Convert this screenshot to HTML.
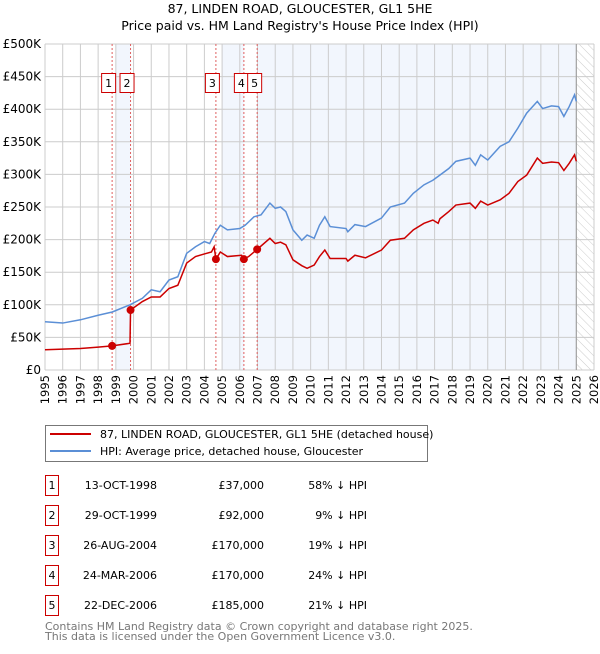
<!DOCTYPE html>
<html><head><meta charset="utf-8"><style>
body{margin:0;background:#fff;width:600px;height:650px;overflow:hidden;font-family:"DejaVu Sans","Liberation Sans",sans-serif;}
svg text{font-family:"DejaVu Sans","Liberation Sans",sans-serif;}
</style></head><body>
<svg id="chart" width="600" height="650" xmlns="http://www.w3.org/2000/svg">
<defs><pattern id="hatch" width="6" height="6" patternUnits="userSpaceOnUse" patternTransform="rotate(-45)"><line x1="0" y1="0" x2="0" y2="6" stroke="#ccc" stroke-width="1"/></pattern></defs>
<text x="300" y="13" text-anchor="middle" font-size="12.5">87, LINDEN ROAD, GLOUCESTER, GL1 5HE</text>
<text x="300" y="30" text-anchor="middle" font-size="12.5">Price paid vs. HM Land Registry's House Price Index (HPI)</text>
<g id="bands"></g><g id="grid"></g><g id="lines"></g><g id="marks"></g><g id="axes"></g>
<g>
<rect x="45.5" y="425.5" width="382" height="36" fill="#fff" stroke="#777"/>
<line x1="50" y1="434" x2="91" y2="434" stroke="#cc0000" stroke-width="2"/>
<text x="100" y="438" font-size="11">87, LINDEN ROAD, GLOUCESTER, GL1 5HE (detached house)</text>
<line x1="50" y1="451" x2="91" y2="451" stroke="#5b8fd6" stroke-width="2"/>
<text x="100" y="455" font-size="11">HPI: Average price, detached house, Gloucester</text>
</g>
<g id="table" font-size="11"></g>
<text x="45" y="630" font-size="11" fill="#777">Contains HM Land Registry data © Crown copyright and database right 2025.</text>
<text x="45" y="640" font-size="11" fill="#777">This data is licensed under the Open Government Licence v3.0.</text>
</svg>
<script>
const hpiYears=[1995,1996,1997,1998,1998.8,1999.8,2000.5,2001,2001.5,2002,2002.5,2003,2003.5,2004,2004.3,2004.6,2004.9,2005.3,2006,2006.3,2006.8,2007.2,2007.7,2008,2008.3,2008.6,2009,2009.5,2009.8,2010.2,2010.5,2010.8,2011.1,2012,2012.1,2012.5,2013.1,2014,2014.5,2015.3,2015.8,2016.4,2016.9,2017.2,2017.8,2018.2,2019,2019.3,2019.6,2020,2020.7,2021.2,2021.7,2022.2,2022.8,2023.1,2023.6,2024,2024.3,2024.6,2024.9,2025];
const hpiValues=[74,72,77,84,89,100,110,123,120,138,143,179,189,197,194,210,222,215,217,222,235,238,256,248,250,243,215,199,207,202,222,235,220,217,212,223,220,233,250,256,271,284,291,297,309,320,325,314,330,322,343,350,371,394,412,401,405,404,389,404,422,412];
const redYears=[1995,1997,1998,1998.79,1999.8,1999.83,2000.5,2001,2001.5,2002,2002.5,2003,2003.5,2004,2004.4,2004.55,2004.65,2004.9,2005.3,2006.1,2006.23,2006.5,2006.98,2007.7,2008,2008.3,2008.6,2009,2009.5,2009.8,2010.2,2010.5,2010.8,2011.1,2012,2012.1,2012.5,2013.1,2014,2014.5,2015.3,2015.8,2016.4,2016.9,2017.2,2017.3,2017.8,2018.2,2019,2019.3,2019.6,2020,2020.7,2021.2,2021.7,2022.2,2022.8,2023.1,2023.6,2024,2024.3,2024.6,2024.9,2025];
const redValues=[31,33,35,37,41,92,105,112,112,125,130,164,174,178,181,189,170,181,174,176,170,174,185,202,194,196,192,169,160,156,161,174,184,171,171,167,176,172,184,199,202,215,225,230,225,232,243,253,256,248,259,253,261,271,289,299,325,317,319,318,306,317,330,320];
const saleLabels=["1","2","3","4","5"];
const saleYears=[1998.79,1999.83,2004.65,2006.23,2006.98];
const salePrices=[37,92,170,170,185];
const saleDates=["13-OCT-1998","29-OCT-1999","26-AUG-2004","24-MAR-2006","22-DEC-2006"];
const salePriceText=["£37,000","£92,000","£170,000","£170,000","£185,000"];
const saleHpiText=["58% ↓ HPI","9% ↓ HPI","19% ↓ HPI","24% ↓ HPI","21% ↓ HPI"];
const yTicks=[0,50,100,150,200,250,300,350,400,450,500];
const yTickLabels=["£0","£50K","£100K","£150K","£200K","£250K","£300K","£350K","£400K","£450K","£500K"];
const bandStarts=[1999.0,2005.0,2007.0];
const bandEnds=[1999.83,2006.23,2025.0];
const X0=45,X1=594,Y0=370,Y1=44;
const x=y=>X0+(y-1995)/(2026-1995)*(X1-X0);
const yv=v=>Y0-v/500*(Y0-Y1);
const NS="http://www.w3.org/2000/svg";
function mk(parent,tag,attrs){const e=document.createElementNS(NS,tag);for(const k in attrs)e.setAttribute(k,attrs[k]);document.getElementById(parent).appendChild(e);return e;}
bandStarts.forEach((s,i)=>{const r=mk('bands','rect',{x:x(s),y:Y1,width:x(bandEnds[i])-x(s),height:Y0-Y1,fill:'#f2f6fd'});

});
const h=mk('bands','rect',{x:x(2025),y:Y1,width:X1-x(2025),height:Y0-Y1,fill:'url(#hatch)'});


for(let yr=1995;yr<=2026;yr++){const l=mk('grid','line',{x1:x(yr),x2:x(yr),y1:Y1,y2:Y0,stroke:'#ccc','stroke-width':1});


const t=mk('axes','text',{x:0,y:0,'font-size':11.5,'text-anchor':'end',transform:`translate(${x(yr)+4},${Y0+5}) rotate(-90)`});
t.textContent=yr;

}
yTicks.forEach((v,i)=>{const l=mk('grid','line',{x1:X0,x2:X1,y1:yv(v),y2:yv(v),stroke:'#ccc','stroke-width':1});


const t=mk('axes','text',{x:41,y:yv(v)+4,'font-size':12,'text-anchor':'end'});
t.textContent=yTickLabels[i];

});
const el=mk('grid','line',{x1:x(2025),x2:x(2025),y1:Y1,y2:Y0,stroke:'#999','stroke-width':1});


saleYears.forEach((s,i)=>{const l=mk('grid','line',{x1:x(s),x2:x(s),y1:Y1,y2:Y0,stroke:'#e06060','stroke-width':1,'stroke-dasharray':'2,2'});

});
const hp=mk('lines','polyline',{points:hpiYears.map((a,i)=>x(a)+','+yv(hpiValues[i])).join(' '),fill:'none',stroke:'#5b8fd6','stroke-width':1.5});


const rp=mk('lines','polyline',{points:redYears.map((a,i)=>x(a)+','+yv(redValues[i])).join(' '),fill:'none',stroke:'#cc0000','stroke-width':1.5});


const boxOff=[-11,-11,-11,-10,-10];
saleYears.forEach((s,i)=>{const c=mk('marks','circle',{cx:x(s),cy:yv(salePrices[i]),r:4,fill:'#cc0000'});


const bx=x(s)+boxOff[i];
const r=mk('marks','rect',{x:bx+0.5,y:73.5,width:14,height:19,fill:'#fff',stroke:'#cc0000'});


const t=mk('marks','text',{x:bx+7.5,y:87,'font-size':11,'text-anchor':'middle'});
t.textContent=saleLabels[i];


const ry=475+i*30;
const tb=mk('table','rect',{x:45.5,y:ry+0.5,width:13,height:20,fill:'#fff',stroke:'#cc0000'});


const tn=mk('table','text',{x:52,y:ry+14,'text-anchor':'middle'});
tn.textContent=saleLabels[i];


const td=mk('table','text',{x:157,y:ry+14,'text-anchor':'end'});
td.textContent=saleDates[i];


const tp=mk('table','text',{x:264,y:ry+14,'text-anchor':'end'});
tp.textContent=salePriceText[i];


const th=mk('table','text',{x:367,y:ry+14,'text-anchor':'end'});
th.textContent=saleHpiText[i];

});
</script>
</body></html>
